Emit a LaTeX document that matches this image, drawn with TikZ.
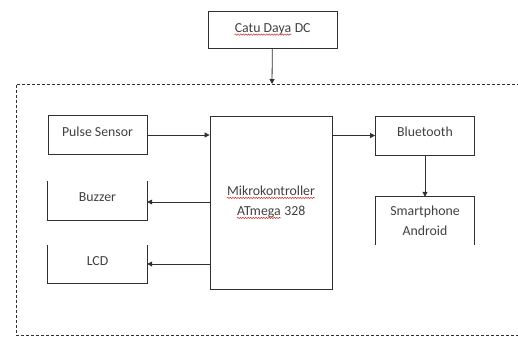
\documentclass[tikz,border=0pt]{standalone}
\usepackage{fontspec}
\setmainfont{Carlito}
\usepackage{xcolor}
\usepackage{tikz}
\usetikzlibrary{positioning,arrows.meta,decorations.pathmorphing}
\definecolor{linecolor}{HTML}{303030}
\definecolor{textcolor}{HTML}{404040}
\definecolor{spellcolor}{HTML}{D03030}
\newcommand{\spellmark}[1]{\tikz[baseline=(w.base),x=1pt,y=1pt]{%
    \node[inner sep=0pt, minimum width=0pt, minimum height=0pt, text height=, text depth=, draw=none] (w) {#1};
    \draw[spellcolor, line width=0.5pt, decorate, decoration={snake,amplitude=0.7pt,segment length=2.6pt}]
      ([yshift=-2.2pt]w.base west) -- ([yshift=-2.2pt]w.base east);}}

\begin{document}
\begin{tikzpicture}[x=1pt,y=-1pt,
    blok/.style={minimum width=99pt, minimum height=39pt, inner sep=0pt, align=center,
      font=\fontsize{13.8}{20}\selectfont, text=textcolor},
    atas/.style={text height=9.5pt, text depth=7pt},
    tutup/.style={blok, draw=linecolor, line width=0.8pt},
    sisi/.style={draw=linecolor, line width=0.8pt},
    panah/.style={draw=linecolor, line width=0.8pt, -{Triangle[length=5pt,width=5pt]}},
  ]
  \useasboundingbox (0,0) rectangle (518,338);
  % catu daya dan area sistem
  \node[tutup, minimum width=129pt, minimum height=37pt] (catu) at (272.5,29.5) {\spellmark{Catu Daya} DC};
  \draw[sisi, dashed, dash pattern=on 3pt off 2pt] (520,84) -- (16,84) -- (16,335) -- (520,335);
  \coordinate (masuk) at (272,84);
  \draw[panah] (catu) -- (masuk);
  % blok-blok
  \node[tutup, atas] (pulse) at (97.5,135) {Pulse Sensor};
  \node[blok, atas] (buzzer) at (97.5,200.5) {Buzzer};
  \node[blok, atas, minimum height=38pt] (lcd) at (97.5,264) {LCD};
  \node[tutup, minimum width=122pt, minimum height=173pt] (mcu) at (271,202.5) {\spellmark{Mikrokontroller}\\\spellmark{ATmega} 328};
  \node[tutup, atas, minimum height=39pt] (bt) at (425,135.5) {Bluetooth};
  \node[blok, minimum height=48pt] (hp) at (425,221) {Smartphone\\Android};
  % sisi blok terbuka
  \draw[sisi] (buzzer.north west) -- (buzzer.south west) -- (buzzer.south east) -- (buzzer.north east);
  \draw[sisi] (lcd.north west) -- (lcd.south west) -- (lcd.south east) -- (lcd.north east);
  \draw[sisi] (hp.south west) -- (hp.north west) -- (hp.north east) -- (hp.south east);
  % panah
  \draw[panah] (pulse.east) -- (pulse.east -| mcu.west);
  \draw[panah] ([yshift=-1.5pt]mcu.west |- buzzer.east) -- ([yshift=-1.5pt]buzzer.east);
  \draw[panah] (mcu.west |- lcd.east) -- (lcd.east);
  \draw[panah] (mcu.east |- bt.west) -- (bt.west);
  \draw[panah] (bt.south) -- (hp.north);
\end{tikzpicture}
\end{document}
